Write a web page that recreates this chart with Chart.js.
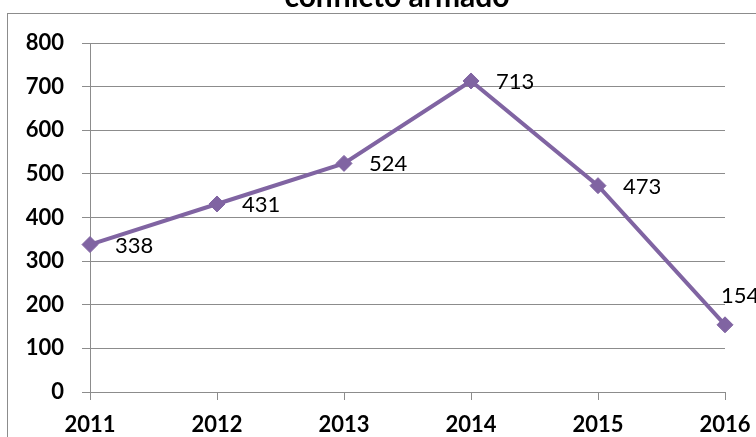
<!DOCTYPE html>
<html>
<head>
<meta charset="utf-8">
<script src="https://cdn.jsdelivr.net/npm/chart.js@4"></script>
<style>
  html, body { margin: 0; padding: 0; background: #fff; overflow: hidden; }
</style>
</head>
<body>
<canvas id="ConflictChart" width="756" height="437"></canvas>
<script>
const years = ["2011", "2012", "2013", "2014", "2015", "2016"];
const victims = [338, 431, 524, 713, 473, 154];
const titleText = "conflicto armado";

const purple = "rgb(128, 100, 162)";
const gridGray = "#8c8c8c";

// box round the chart, and the title half cut off at the top
const frameAndTitle = {
    id: "frameAndTitle",
    beforeDraw(chart) {
        const ctx = chart.ctx;
        ctx.save();
        ctx.strokeStyle = "#8c8c8c";
        ctx.lineWidth = 1;
        ctx.strokeRect(7.5, 13.5, 900, 600);
        ctx.font = "bold 30px Lato";
        ctx.fillStyle = "#000";
        ctx.textAlign = "center";
        ctx.textBaseline = "alphabetic";
        ctx.fillText(titleText, 397, 7);
        ctx.restore();
    },
};

// value labels next to each point
const valueLabels = {
    id: "valueLabels",
    afterDatasetsDraw(chart) {
        const ctx = chart.ctx;
        const meta = chart.getDatasetMeta(0);
        ctx.save();
        ctx.font = "22px Lato";
        ctx.fillStyle = "#000";
        ctx.textAlign = "left";
        ctx.textBaseline = "middle";
        meta.data.forEach((pt, i) => {
            const last = i === meta.data.length - 1;
            const dx = last ? -4 : 25;
            const dy = last ? -29 : 1;
            ctx.fillText(String(victims[i]), pt.x + dx, pt.y + dy);
        });
        ctx.restore();
    },
};

function ConflictChart() {
    const ctx = document.getElementById("ConflictChart");

    new Chart(ctx, {
        type: "line",
        data: {
            labels: years,
            datasets: [
                {
                    label: titleText,
                    data: victims,
                    borderColor: purple,
                    backgroundColor: purple,
                    borderWidth: 4,
                    tension: 0,
                    fill: false,
                    pointStyle: "rectRot",
                    pointRadius: 8,
                    pointHoverRadius: 8,
                    pointBackgroundColor: purple,
                    pointBorderColor: purple,
                    pointBorderWidth: 1,
                },
            ],
        },
        options: {
            responsive: false,
            animation: false,
            layout: {
                padding: { top: 43, right: 31, left: 0, bottom: 0 },
            },
            plugins: {
                legend: { display: false },
                tooltip: { enabled: false },
            },
            scales: {
                x: {
                    offset: false,
                    afterFit(scale) {
                        scale.height = 45;
                        scale.paddingLeft = 0;
                        scale.paddingRight = 0;
                    },
                    grid: {
                        drawOnChartArea: false,
                        drawTicks: true,
                        tickLength: 8,
                        color: gridGray,
                    },
                    border: { display: true, color: gridGray },
                    ticks: {
                        color: "#000",
                        padding: 12,
                        maxRotation: 0,
                        font: { family: "Lato", size: 22, weight: "bold" },
                    },
                },
                y: {
                    min: 0,
                    max: 800,
                    afterFit(scale) { scale.width = 90; },
                    grid: {
                        color: gridGray,
                        tickLength: 8,
                    },
                    border: { display: true, color: gridGray },
                    ticks: {
                        stepSize: 100,
                        color: "#000",
                        padding: 18,
                        font: { family: "Lato", size: 22, weight: "bold" },
                    },
                },
            },
        },
        plugins: [frameAndTitle, valueLabels],
    });
}

ConflictChart();
</script>
</body>
</html>
